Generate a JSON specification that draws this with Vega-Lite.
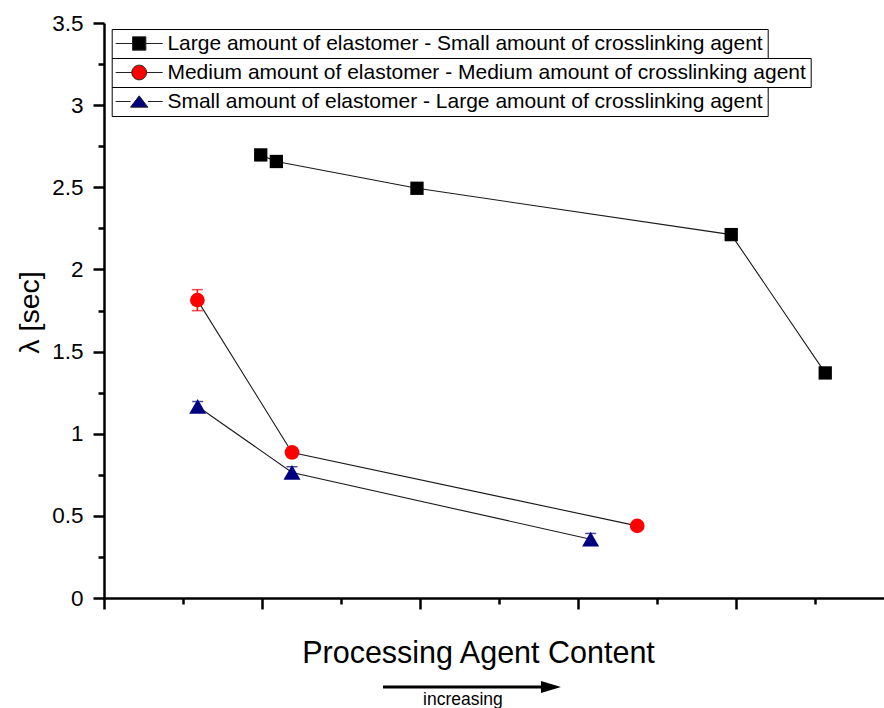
{
  "$schema": "https://vega.github.io/schema/vega-lite/v6.json",
  "width": 780,
  "height": 575,
  "autosize": {"type": "none"},
  "padding": {"left": 104, "top": 23, "right": 0, "bottom": 110},
  "background": "white",
  "config": {
    "view": {"stroke": null},
    "font": "Liberation Sans",
    "axis": {
      "grid": false,
      "domainColor": "#000",
      "tickColor": "#000",
      "labelColor": "#000",
      "titleColor": "#000",
      "domainWidth": 2.5,
      "tickWidth": 2.5,
      "labelFont": "Liberation Sans",
      "titleFont": "Liberation Sans",
      "titleFontWeight": "normal"
    },
    "legend": {
      "orient": "none",
      "padding": 4,
      "symbolOffset": 13,
      "labelOffset": 17.7,
      "labelFontSize": 21,
      "labelFont": "Liberation Sans",
      "labelColor": "#000",
      "labelLimit": 1000,
      "strokeColor": "#000",
      "fillColor": "white",
      "cornerRadius": 0,
      "symbolSize": 196,
      "symbolStrokeColor": "#222",
      "symbolStrokeWidth": 1,
      "title": null
    }
  },
  "datasets": {
    "pts": [
      {"sid": "A", "series": "Large amount of elastomer - Small amount of crosslinking agent", "x": 0.992, "y": 2.697},
      {"sid": "A", "series": "Large amount of elastomer - Small amount of crosslinking agent", "x": 1.091, "y": 2.657},
      {"sid": "A", "series": "Large amount of elastomer - Small amount of crosslinking agent", "x": 1.981, "y": 2.494},
      {"sid": "A", "series": "Large amount of elastomer - Small amount of crosslinking agent", "x": 3.970, "y": 2.212},
      {"sid": "A", "series": "Large amount of elastomer - Small amount of crosslinking agent", "x": 4.565, "y": 1.370},
      {"sid": "B", "series": "Medium amount of elastomer - Medium amount of crosslinking agent", "x": 0.591, "y": 1.813},
      {"sid": "B", "series": "Medium amount of elastomer - Medium amount of crosslinking agent", "x": 1.190, "y": 0.886},
      {"sid": "B", "series": "Medium amount of elastomer - Medium amount of crosslinking agent", "x": 3.375, "y": 0.439},
      {"sid": "C", "series": "Small amount of elastomer - Large amount of crosslinking agent", "x": 0.593, "y": 1.166},
      {"sid": "C", "series": "Small amount of elastomer - Large amount of crosslinking agent", "x": 1.190, "y": 0.764},
      {"sid": "C", "series": "Small amount of elastomer - Large amount of crosslinking agent", "x": 3.080, "y": 0.358}
    ],
    "err": [
      {"sid": "B", "x": 0.591, "lo": 1.749, "hi": 1.877},
      {"sid": "C", "x": 0.593, "lo": 1.136, "hi": 1.196},
      {"sid": "C", "x": 1.190, "lo": 0.729, "hi": 0.799},
      {"sid": "C", "x": 3.080, "lo": 0.323, "hi": 0.393}
    ]
  },
  "layer": [
    {
      "data": {"name": "pts"},
      "mark": {"type": "line", "color": "#1a1a1a", "strokeWidth": 1.1},
      "encoding": {
        "x": {
          "field": "x", "type": "quantitative",
          "scale": {"domain": [0, 4.937], "nice": false, "zero": false},
          "axis": {
            "orient": "bottom", "values": [0, 1, 2, 3, 4], "labels": false, "tickSize": 11,
            "title": "Processing Agent Content", "titleFontSize": 30.5,
            "titleX": 374, "titleY": 64.7, "titleBaseline": "alphabetic", "titleAlign": "center"
          }
        },
        "y": {
          "field": "y", "type": "quantitative",
          "scale": {"domain": [0, 3.5], "nice": false, "zero": false},
          "axis": {
            "orient": "left", "values": [0, 0.5, 1, 1.5, 2, 2.5, 3, 3.5], "format": "~g",
            "tickSize": 11, "labelFontSize": 22.5, "labelPadding": 10,
            "title": "λ [sec]", "titleFontSize": 28.5, "titleX": -65.5, "titleY": 289,
            "titleBaseline": "alphabetic", "titleAngle": 270, "titleAlign": "center"
          }
        },
        "detail": {"field": "sid"},
        "order": {"field": "x"}
      }
    },
    {
      "data": {"name": "err"},
      "mark": {"type": "rule", "strokeWidth": 1.5},
      "encoding": {
        "x": {
          "field": "x", "type": "quantitative",
          "axis": {"orient": "bottom", "values": [0.5, 1.5, 2.5, 3.5, 4.5], "labels": false, "domain": false, "tickSize": 6, "title": null}
        },
        "y": {
          "field": "lo", "type": "quantitative",
          "axis": {"orient": "left", "values": [0.25, 0.75, 1.25, 1.75, 2.25, 2.75, 3.25], "labels": false, "domain": false, "tickSize": 6, "title": null}
        },
        "y2": {"field": "hi"},
        "color": {"field": "sid", "type": "nominal", "scale": {"domain": ["A", "B", "C"], "range": ["#000000", "#ff0000", "#000080"]}, "legend": null}
      }
    },
    {
      "data": {"name": "err"},
      "mark": {"type": "tick", "orient": "horizontal", "size": 11, "thickness": 1.5},
      "encoding": {
        "x": {"field": "x", "type": "quantitative", "axis": null},
        "y": {"field": "lo", "type": "quantitative", "axis": null},
        "color": {"field": "sid", "type": "nominal", "scale": {"domain": ["A", "B", "C"], "range": ["#000000", "#ff0000", "#000080"]}, "legend": null}
      }
    },
    {
      "data": {"name": "err"},
      "mark": {"type": "tick", "orient": "horizontal", "size": 11, "thickness": 1.5},
      "encoding": {
        "x": {"field": "x", "type": "quantitative", "axis": null},
        "y": {"field": "hi", "type": "quantitative", "axis": null},
        "color": {"field": "sid", "type": "nominal", "scale": {"domain": ["A", "B", "C"], "range": ["#000000", "#ff0000", "#000080"]}, "legend": null}
      }
    },
    {
      "data": {"name": "pts"},
      "transform": [{"filter": "datum.sid === 'A'"}],
      "mark": {"type": "point", "filled": true, "shape": "square", "size": 177, "opacity": 1},
      "encoding": {
        "x": {"field": "x", "type": "quantitative", "axis": null},
        "y": {"field": "y", "type": "quantitative", "axis": null},
        "color": {
          "field": "series", "type": "nominal",
          "scale": {"domain": ["Large amount of elastomer - Small amount of crosslinking agent"], "range": ["#000000"]},
          "legend": {"legendX": 7.7, "legendY": 6, "symbolType": "M-3.36,0H-0.95M0.95,0H3.36M-0.95,-0.95H0.95V0.95H-0.95Z"}
        }
      }
    },
    {
      "data": {"name": "pts"},
      "transform": [{"filter": "datum.sid === 'B'"}],
      "mark": {"type": "point", "filled": true, "shape": "circle", "size": 216, "opacity": 1},
      "encoding": {
        "x": {"field": "x", "type": "quantitative", "axis": null},
        "y": {"field": "y", "type": "quantitative", "axis": null},
        "color": {
          "field": "series", "type": "nominal",
          "scale": {"domain": ["Medium amount of elastomer - Medium amount of crosslinking agent"], "range": ["#ff0000"]},
          "legend": {"legendX": 7.7, "legendY": 35, "symbolType": "M-3.36,0H-1.05M1.05,0H3.36M-1.05,0A1.05,1.05,0,1,0,1.05,0A1.05,1.05,0,1,0,-1.05,0Z"}
        }
      }
    },
    {
      "data": {"name": "pts"},
      "transform": [{"filter": "datum.sid === 'C'"}],
      "mark": {"type": "point", "filled": true, "shape": "triangle-up", "size": 289, "opacity": 1},
      "encoding": {
        "x": {"field": "x", "type": "quantitative", "axis": null},
        "y": {"field": "y", "type": "quantitative", "axis": null},
        "color": {
          "field": "series", "type": "nominal",
          "scale": {"domain": ["Small amount of elastomer - Large amount of crosslinking agent"], "range": ["#000080"]},
          "legend": {"legendX": 7.7, "legendY": 64, "symbolType": "M-3.36,0H-1.24M1.24,0H3.36M0,-0.81L1.24,0.81H-1.24Z"}
        }
      }
    },
    {
      "data": {"values": [{}]},
      "mark": {"type": "rule", "color": "#000", "strokeWidth": 3},
      "encoding": {
        "x": {"datum": 1.766, "type": "quantitative", "axis": null},
        "x2": {"datum": 2.79},
        "y": {"datum": -0.541, "type": "quantitative", "axis": null}
      }
    },
    {
      "data": {"values": [{}]},
      "mark": {"type": "point", "filled": true, "color": "#000", "opacity": 1, "shape": "M-1,-0.6L1,0L-1,0.6Z", "size": 400},
      "encoding": {
        "x": {"datum": 2.829, "type": "quantitative", "axis": null},
        "y": {"datum": -0.541, "type": "quantitative", "axis": null}
      }
    },
    {
      "data": {"values": [{}]},
      "mark": {"type": "text", "text": "increasing", "fontSize": 17.5, "font": "Liberation Sans", "color": "#000", "align": "center", "baseline": "alphabetic"},
      "encoding": {
        "x": {"datum": 2.272, "type": "quantitative", "axis": null},
        "y": {"datum": -0.652, "type": "quantitative", "axis": null}
      }
    }
  ],
  "resolve": {
    "scale": {"color": "independent"},
    "axis": {"x": "independent", "y": "independent"}
  }
}
